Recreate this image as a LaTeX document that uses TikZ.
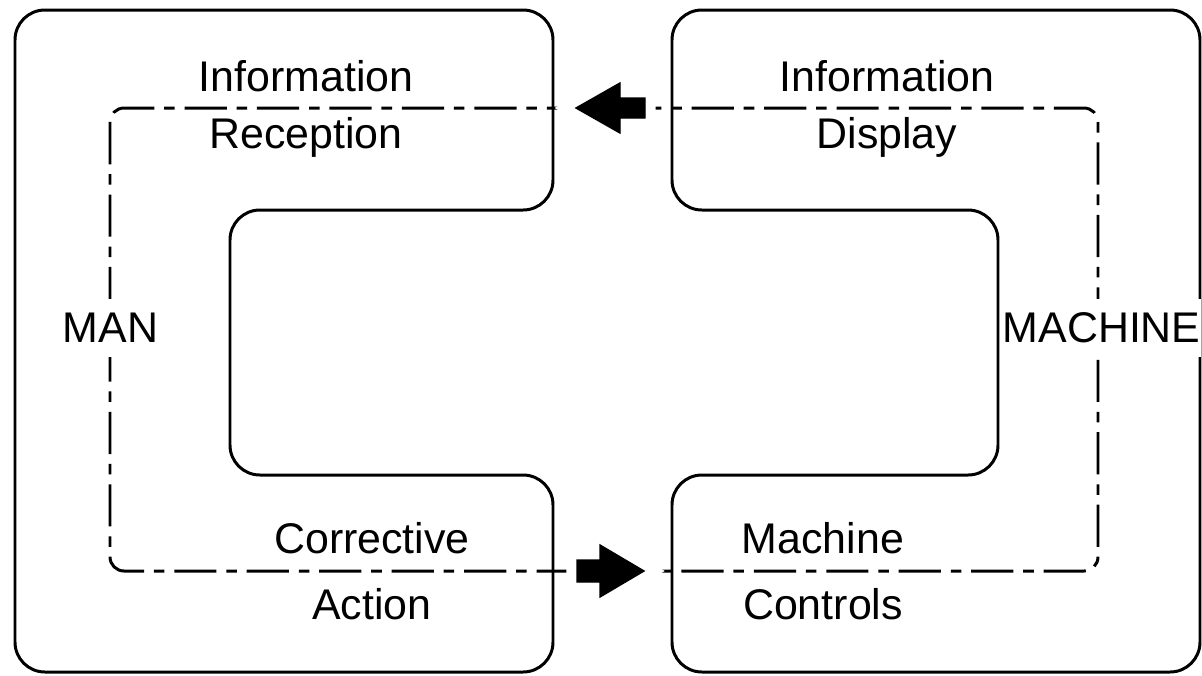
\documentclass[tikz,border=0pt]{standalone}
\usepackage{fontspec}
\setmainfont{Liberation Sans}

\begin{document}
\begin{tikzpicture}[x=0.01cm,y=-0.01cm,
  outline/.style={line width=.85pt,rounded corners=8.5pt},
  loop/.style={line width=.85pt,rounded corners=4pt,dash pattern=on 12pt off 2.8pt on 3pt off 2.8pt},
  blockarrow/.style={fill=black,preaction={draw=white,line width=6pt}},
  label/.style={font=\fontsize{12.2}{16.2}\selectfont,align=center,inner sep=0pt},
  sidelabel/.style={label,anchor=west,fill=white,inner xsep=0pt,inner ysep=4pt}]
  \useasboundingbox (0,0) rectangle (1202,675);
  % Man and machine outlines, two facing C shapes.
  \draw[outline] (15,10) -- (553,10) -- (553,210) -- (230,210) -- (230,475)
    -- (553,475) -- (553,672) -- (15,672) -- cycle;
  \draw[outline] (672,10) -- (1200,10) -- (1200,672) -- (672,672) -- (672,475)
    -- (998,475) -- (998,210) -- (672,210) -- cycle;
  % The closed loop between man and machine.
  \draw[loop] (110,108) rectangle (1098,571);
  % Flow arrows on the loop.
  \filldraw[blockarrow] (576,108) -- (620,83) -- (620,98) -- (645,98) -- (645,118)
    -- (620,118) -- (620,133) -- cycle;
  \filldraw[blockarrow] (644,571) -- (600,545) -- (600,560) -- (577,560) -- (577,582)
    -- (600,582) -- (600,597) -- cycle;
  % Labels.
  \node[label] (infrec) at (306,109) {Information\\Reception};
  \node[label] (infdisp) at (887,109) {Information\\Display};
  \node[label] (corract) at (372,571) {Corrective\\[2.4pt]Action};
  \node[label] (machctrl) at (823,571) {Machine\\[2.4pt]Controls};
  \node[sidelabel] (man) at (62,328) {MAN};
  \node[sidelabel] (machine) at (1002,328) {MACHINE};
\end{tikzpicture}
\end{document}
